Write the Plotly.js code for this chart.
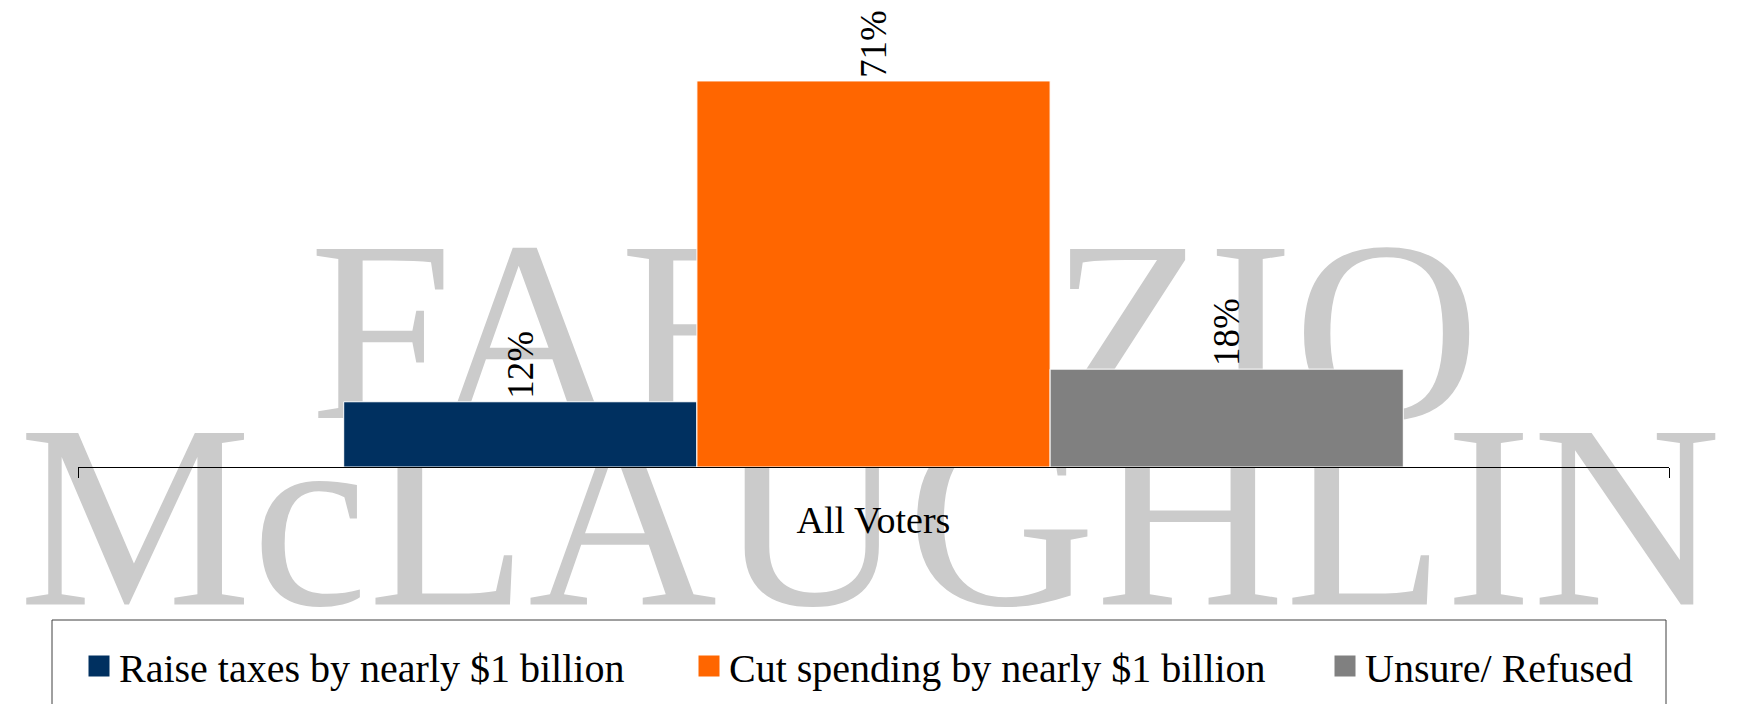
<!DOCTYPE html>
<html>
<head>
<meta charset="utf-8">
<script src="https://cdn.plot.ly/plotly-3.0.1.min.js"></script>
<style>
  html, body { margin: 0; padding: 0; background: #ffffff; }
  #chart { width: 1748px; height: 704px; }
</style>
</head>
<body>
<div id="chart"></div>
<script>
// ---- data ----
const categories = ['All Voters'];
const seriesNames = ['Raise taxes by nearly $1 billion', 'Cut spending by nearly $1 billion', 'Unsure/ Refused'];
const raiseTaxes = [12];
const cutSpending = [71];
const unsureRefused = [18];
const watermarkTop = 'FABRIZIO';
const watermarkBottom = 'McLAUGHLIN';

// ---- styles ----
const seriesColors = ['#003060', '#FF6600', '#808080'];
const serif = '"Liberation Serif", "Times New Roman", serif';
const legendIds = ['legend', 'legend2', 'legend3'];
const legendLeftPx = [79, 689, 1325];

const seriesValues = [raiseTaxes, cutSpending, unsureRefused];
const data = seriesValues.map((vals, i) => ({
  type: 'bar',
  name: seriesNames[i],
  legend: legendIds[i],
  x: categories,
  y: vals,
  marker: { color: seriesColors[i], line: { color: '#ffffff', width: 1 } },
  texttemplate: '%{y}%\u2009',
  textposition: 'outside',
  textangle: -90,
  textfont: { family: serif, size: 37, color: '#000000' },
  cliponaxis: false,
  constraintext: 'none',
  hoverinfo: 'skip'
}));

// plot area: x 78..1669, y 32..467
const px2x = px => (px - 78) / 1591;
const px2y = py => (467 - py) / 435;

const legendBase = {
  orientation: 'h',
  xref: 'container',
  yref: 'container',
  xanchor: 'left',
  y: 1 - 666 / 704,
  yanchor: 'middle',
  bgcolor: 'rgba(0,0,0,0)',
  borderwidth: 0,
  font: { family: serif, size: 40, color: '#000000' }
};

const layout = {
  width: 1748,
  height: 704,
  margin: { l: 78, r: 79, t: 32, b: 237 },
  paper_bgcolor: '#ffffff',
  plot_bgcolor: 'rgba(0,0,0,0)',
  barmode: 'group',
  bargap: 0.334,
  bargroupgap: 0,
  font: { family: serif, color: '#000000' },
  xaxis: {
    type: 'category',
    showline: true,
    linecolor: '#000000',
    linewidth: 1,
    ticks: 'outside',
    tickson: 'boundaries',
    ticklen: 10,
    tickcolor: '#000000',
    ticklabelstandoff: 19,
    tickfont: { family: serif, size: 38, color: '#000000' },
    showgrid: false,
    zeroline: false
  },
  yaxis: {
    visible: false,
    range: [0, 80],
    showgrid: false,
    zeroline: false
  },
  showlegend: true,
  legend: Object.assign({}, legendBase, { x: legendLeftPx[0] / 1748 }),
  legend2: Object.assign({}, legendBase, { x: legendLeftPx[1] / 1748 }),
  legend3: Object.assign({}, legendBase, { x: legendLeftPx[2] / 1748 }),
  shapes: [
    {
      type: 'rect', layer: 'below', xref: 'paper', yref: 'paper',
      x0: px2x(273), x1: px2x(1516), y0: px2y(382), y1: px2y(224),
      line: { width: 0 }, fillcolor: 'rgba(0,0,0,0)',
      label: { text: watermarkTop, textposition: 'middle center',
               font: { family: serif, size: 258, color: '#cbcbcb' } }
    },
    {
      type: 'rect', layer: 'below', xref: 'paper', yref: 'paper',
      x0: px2x(0), x1: px2x(1740), y0: px2y(574), y1: px2y(401),
      line: { width: 0 }, fillcolor: 'rgba(0,0,0,0)',
      label: { text: watermarkBottom, textposition: 'middle center',
               font: { family: serif, size: 262, color: '#cbcbcb' } }
    },
    {
      type: 'rect', layer: 'above', xref: 'paper', yref: 'paper',
      x0: px2x(52), x1: px2x(1666), y0: px2y(720), y1: px2y(620),
      line: { color: '#404040', width: 1 }, fillcolor: '#ffffff'
    }
  ]
};

Plotly.newPlot('chart', data, layout, { staticPlot: true, displayModeBar: false }).then(gd => {
  gd.querySelectorAll('.legendpoints path').forEach(p => {
    p.setAttribute('d', 'M11,11H-11V-11H11Z');
  });
});
</script>
</body>
</html>
